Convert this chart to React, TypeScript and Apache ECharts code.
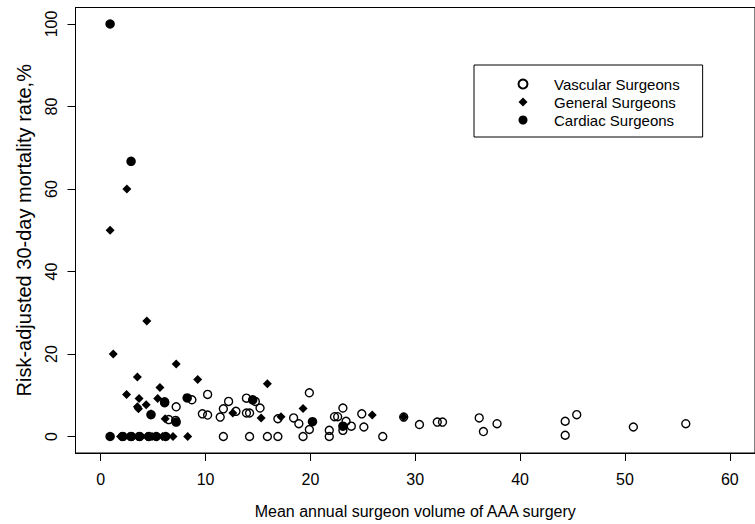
import React, { useEffect, useRef } from "react";
import * as echarts from "echarts";

const xTicks = [0, 10, 20, 30, 40, 50, 60];
const yTicks = [0, 20, 40, 60, 80, 100];
const seriesNames = ["Vascular Surgeons", "General Surgeons", "Cardiac Surgeons"];

const vascularX = [6.1, 7.2, 8.7, 10.2, 6.5, 7.15, 9.7, 10.2, 11.4, 11.7, 12.2, 11.7, 19.9, 13.9, 14.75, 15.2, 12.9, 13.9, 14.2, 16.9, 18.4, 18.9, 19.9, 19.3, 14.2, 15.9, 16.9, 21.8, 21.8, 22.3, 22.6, 23.1, 23.4, 23.1, 23.9, 24.9, 25.1, 26.9, 28.9, 30.4, 32.1, 32.6, 36.1, 36.5, 37.8, 44.3, 44.3, 45.4, 50.8, 55.8];
const vascularY = [8.4, 7.2, 8.9, 10.2, 4.1, 3.9, 5.5, 5.2, 4.7, 6.7, 8.5, 0, 10.6, 9.3, 8.5, 6.9, 6.1, 5.7, 5.7, 4.3, 4.5, 3.1, 1.7, 0, 0, 0, 0, 1.5, 0, 4.8, 4.8, 6.9, 3.7, 1.5, 2.5, 5.5, 2.3, 0, 4.7, 2.9, 3.5, 3.5, 4.5, 1.2, 3.1, 3.7, 0.3, 5.3, 2.3, 3.1];

const generalX = [0.9, 2.5, 4.4, 1.2, 7.2, 3.5, 9.25, 5.65, 2.47, 3.66, 5.44, 3.5, 4.34, 3.6, 4.8, 6.15, 15.9, 19.3, 12.6, 15.3, 17.2, 25.9, 28.9, 6.9, 8.3, 1.9, 2.3, 2.7, 3.1, 3.5, 3.9, 4.4, 4.9, 5.4, 5.9];
const generalY = [50, 60, 28, 20, 17.6, 14.4, 13.8, 11.9, 10.2, 9.2, 9.2, 7.2, 7.7, 6.7, 5.5, 4.3, 12.8, 6.8, 5.7, 4.5, 4.8, 5.2, 4.7, 0, 0, 0, 0, 0, 0, 0, 0, 0, 0, 0, 0];

const cardiacX = [0.9, 2.9, 0.9, 4.8, 8.25, 6.1, 7.2, 14.5, 20.2, 23.1, 2.1, 2.9, 3.7, 4.6, 5.3, 6.2];
const cardiacY = [100, 66.7, 0, 5.3, 9.35, 8.2, 3.5, 8.9, 3.6, 2.5, 0, 0, 0, 0, 0, 0];

const zip = (xs: number[], ys: number[]) => xs.map((x, i) => [x, ys[i]]);

export default function App() {
  const ref = useRef<HTMLDivElement>(null);
  useEffect(() => {
    const chart = echarts.init(ref.current!, null, { renderer: "svg" });
    const font = "'Liberation Sans', Arial, Helvetica, sans-serif";
    chart.setOption({
      animation: false,
      backgroundColor: "#ffffff",
      textStyle: { fontFamily: font, color: "#000" },
      grid: {
        left: 75.5,
        top: 7.5,
        right: -13,
        bottom: 71,
        show: true,
        borderColor: "#000",
        borderWidth: 1,
        backgroundColor: "transparent",
      },
      legend: {
        orient: "vertical",
        left: 474,
        top: 65,
        padding: [10, 23, 8, 43.5],
        borderColor: "#000",
        borderWidth: 1,
        itemWidth: 9,
        itemHeight: 9,
        itemGap: 0,
        selectedMode: false,
        textStyle: { fontSize: 15, color: "#000", lineHeight: 18, fontFamily: font, padding: [0, 0, 0, 21.5] },
        data: seriesNames,
      },
      xAxis: {
        type: "value",
        min: -2.4,
        max: 62.4,
        splitLine: { show: false },
        axisLine: { show: true, onZero: false, lineStyle: { color: "#000", width: 1 } },
        axisTick: { show: true, customValues: xTicks, length: 8, lineStyle: { color: "#000" } },
        axisLabel: { customValues: xTicks, color: "#000", fontSize: 16, margin: 18, fontFamily: font },
        name: "Mean annual surgeon volume of AAA surgery",
        nameLocation: "middle",
        nameGap: 50,
        nameTextStyle: { fontSize: 16, color: "#000", fontFamily: font },
      },
      yAxis: {
        type: "value",
        min: -4,
        max: 104,
        splitLine: { show: false },
        axisLine: { show: true, onZero: false, lineStyle: { color: "#000", width: 1 } },
        axisTick: { show: true, customValues: yTicks, length: 8, lineStyle: { color: "#000" } },
        axisLabel: { customValues: yTicks, rotate: 90, color: "#000", fontSize: 16, margin: 16, fontFamily: font },
        name: "Risk-adjusted 30-day mortality rate,%",
        nameLocation: "middle",
        nameRotate: 90,
        nameGap: 42,
        nameTextStyle: { fontSize: 20, color: "#000", fontFamily: font },
      },
      series: [
        {
          type: "scatter",
          name: seriesNames[0],
          data: zip(vascularX, vascularY),
          symbol: "circle",
          symbolSize: 8,
          itemStyle: { color: "rgba(0,0,0,0)", borderColor: "#000", borderWidth: 1.4, opacity: 1 },
        },
        {
          type: "scatter",
          name: seriesNames[1],
          data: zip(generalX, generalY),
          symbol: "diamond",
          symbolSize: 9,
          itemStyle: { color: "#000", opacity: 1 },
        },
        {
          type: "scatter",
          name: seriesNames[2],
          data: zip(cardiacX, cardiacY),
          symbol: "circle",
          symbolSize: 9.5,
          itemStyle: { color: "#000", opacity: 1 },
        },
      ],
    });
    return () => chart.dispose();
  }, []);
  return <div ref={ref} style={{ position: "fixed", left: 0, top: 0, width: 755, height: 524 }} />;
}
